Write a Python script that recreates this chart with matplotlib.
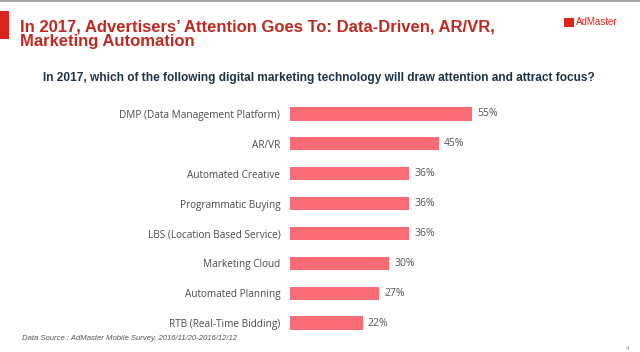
import matplotlib.pyplot as plt
from matplotlib.patches import Rectangle

# Survey data
categories = ['DMP (Data Management Platform)', 'AR/VR', 'Automated Creative',
              'Programmatic Buying', 'LBS (Location Based Service)',
              'Marketing Cloud', 'Automated Planning', 'RTB (Real-Time Bidding)']
values = [55, 45, 36, 36, 36, 30, 27, 22]
value_labels = ['55%', '45%', '36%', '36%', '36%', '30%', '27%', '22%']

title = 'In 2017, Advertisers\u2019 Attention Goes To: Data-Driven, AR/VR,\nMarketing Automation'
question = 'In 2017, which of the following digital marketing technology will draw attention and attract focus?'
source = 'Data Source\u00a0: AdMaster Mobile Survey, 2016/11/20-2016/12/12'

W, H = 640, 352
bar_color = '#F96B75'
title_red = '#BE2A22'

fig = plt.figure(figsize=(W / 100, H / 100), dpi=100)
fig.patch.set_facecolor('white')

# slide decorations: top grey rule and left red accent
fig.add_artist(Rectangle((0, 1 - 2 / H), 1, 2 / H, transform=fig.transFigure,
                         color='#A8A8A8', lw=0))
fig.add_artist(Rectangle((0, 1 - 39 / H), 9 / W, 28 / H, transform=fig.transFigure,
                         color='#D9261C', lw=0))

fig.text(20 / W, 1 - 34 / H, title, fontsize=12, fontweight='bold', color=title_red,
         family='Liberation Sans', va='center', ha='left', linespacing=1.0)

# logo
fig.add_artist(Rectangle((564 / W, 1 - 27 / H), 10 / W, 9 / H, transform=fig.transFigure,
                         color='#E2231A', lw=0))
fig.text(576 / W, 1 - 22 / H, 'AdMaster', fontsize=7, color='#E2231A',
         family='Liberation Sans', va='center', ha='left')

fig.text(319 / W, 1 - 78 / H, question, fontsize=8.6, fontweight='bold', color='#1F3347',
         family='Liberation Sans', va='center', ha='center')

# bar chart
ax = fig.add_axes([290 / W, 1 - 338 / H, 331 / W, 239 / H])
y = list(range(len(categories)))
ax.barh(y, values, height=0.44, color=bar_color)
ax.set_xlim(0, 100)
ax.set_ylim(len(categories) - 0.5, -0.5)
ax.set_yticks(y)
ax.set_yticklabels(categories, fontsize=7.2, color='#4A4A4A', family='Open Sans')
ax.tick_params(axis='y', length=0, pad=7)
ax.set_xticks([])
for s in ax.spines.values():
    s.set_visible(False)
for yi, v, lab in zip(y, values, value_labels):
    ax.text(v + 1.5, yi, lab, va='center', ha='left', fontsize=7.5,
            color='#555555', family='Open Sans')

fig.text(22 / W, 1 - 338 / H, source, fontsize=5.6, style='italic', color='#555555',
         family='Liberation Sans', va='center', ha='left')
fig.text(626 / W, 1 - 349 / H, '4', fontsize=4, color='#888888', va='center')

fig.savefig('out.png', dpi=100)
